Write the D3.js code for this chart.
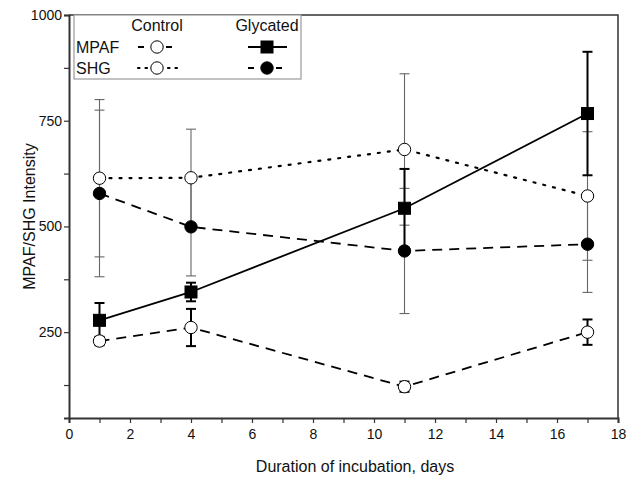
<!DOCTYPE html>
<html>
<head>
<meta charset="utf-8">
<script src="https://cdn.jsdelivr.net/npm/d3@7"></script>
<style>
  body { margin: 0; background: #fff; }
  text { font-family: "Liberation Sans", Arial, sans-serif; fill: #111; }
</style>
</head>
<body>
<div id="chart"></div>
<script>
// values
const days = [1, 4, 11, 17];
const mpafControl = [229, 261, 121, 250];
const mpafControlErr = [10, 44, 12, 30];
const mpafGlycated = [278, 345, 543, 767];
const mpafGlycatedErr = [41, 22, 93, 146];
const shgControl = [614, 615, 682, 572];
const shgControlErr = [186, 115, 179, 152];
const shgGlycated = [578, 499, 442, 458];
const shgGlycatedErr = [197, 116, 148, 114];
const xTicks = [0, 2, 4, 6, 8, 10, 12, 14, 16, 18];
const yTicks = [250, 500, 750, 1000];

const W = 634, H = 479;
const margin = { top: 15, right: 16, bottom: 61, left: 69 };

const x = d3.scaleLinear().domain([0, 18]).range([margin.left, W - margin.right]);
const y = d3.scaleLinear().domain([47, 1000]).range([H - margin.bottom, margin.top]);

const svg = d3.select('#chart').append('svg')
  .attr('width', W).attr('height', H);

// frame top / right
svg.append('path')
  .attr('d', `M${x(0)},${y(1000)}H${x(18)}V${y(47)}`)
  .attr('fill', 'none').attr('stroke', '#333').attr('stroke-width', 1.5);

// axes
const xAxis = svg.append('g')
  .attr('transform', `translate(0,${y(47)})`)
  .call(d3.axisBottom(x).tickValues(d3.range(0, 19, 1)).tickSize(5)
    .tickFormat(d => xTicks.includes(d) ? d : ''));
const yAxis = svg.append('g')
  .attr('transform', `translate(${x(0)},0)`)
  .call(d3.axisLeft(y).tickValues([125, 250, 375, 500, 625, 750, 875, 1000]).tickSize(5)
    .tickFormat(d => yTicks.includes(d) ? d : ''));

[xAxis, yAxis].forEach(g => {
  g.select('.domain').attr('stroke', '#333').attr('stroke-width', 2);
  g.selectAll('.tick line').attr('stroke', '#333').attr('stroke-width', 1.2);
  g.selectAll('.tick text').style('font-size', '14px')
    .style('font-family', '"Liberation Sans", Arial, sans-serif').attr('fill', '#111');
});
xAxis.selectAll('.tick text').attr('dy', '0.95em');
yAxis.selectAll('.tick text').attr('x', -7);

// axis titles
svg.append('text')
  .attr('x', 355).attr('y', 472)
  .attr('text-anchor', 'middle').style('font-size', '16px')
  .text('Duration of incubation, days');
svg.append('text')
  .attr('transform', `translate(35,${(y(1000) + y(47)) / 2}) rotate(-90)`)
  .attr('text-anchor', 'middle').style('font-size', '16px')
  .text('MPAF/SHG Intensity');

const series = [
  { v: shgControl, e: shgControlErr, dash: '2,8', cap: 'round', fill: '#fff', sym: 'circle', thick: false },
  { v: shgGlycated, e: shgGlycatedErr, dash: '10,7', cap: 'butt', fill: '#000', sym: 'circle', thick: false },
  { v: mpafControl, e: mpafControlErr, dash: '10,7', cap: 'butt', fill: '#fff', sym: 'circle', thick: true },
  { v: mpafGlycated, e: mpafGlycatedErr, dash: null, cap: 'butt', fill: '#000', sym: 'square', thick: true }
];

// error bars
series.forEach(s => {
  const g = svg.append('g')
    .attr('stroke', s.thick ? '#000' : '#666')
    .attr('stroke-width', s.thick ? 2 : 1.1);
  const w = 5;
  days.forEach((d, i) => {
    const lo = y(s.v[i] - s.e[i]), hi = y(s.v[i] + s.e[i]);
    g.append('line').attr('x1', x(d)).attr('x2', x(d)).attr('y1', lo).attr('y2', hi);
    g.append('line').attr('x1', x(d) - w).attr('x2', x(d) + w).attr('y1', lo).attr('y2', lo);
    g.append('line').attr('x1', x(d) - w).attr('x2', x(d) + w).attr('y1', hi).attr('y2', hi);
  });
});

// lines
const line = d3.line().x((d, i) => x(days[i])).y(d => y(d));
series.forEach(s => {
  svg.append('path')
    .datum(s.v)
    .attr('d', line)
    .attr('fill', 'none')
    .attr('stroke', '#000')
    .attr('stroke-width', s.cap === 'round' ? 2.2 : 1.8)
    .attr('stroke-linecap', s.cap)
    .attr('stroke-dasharray', s.dash);
});

function marker(g, sym, fill, cx, cy) {
  if (sym === 'square') {
    g.append('rect').attr('x', cx - 6).attr('y', cy - 6).attr('width', 12).attr('height', 12)
      .attr('fill', fill).attr('stroke', '#000').attr('stroke-width', 1);
  } else {
    g.append('circle').attr('cx', cx).attr('cy', cy).attr('r', 6.2)
      .attr('fill', fill).attr('stroke', '#000').attr('stroke-width', 1);
  }
}

// markers
series.forEach(s => {
  const g = svg.append('g');
  days.forEach((d, i) => marker(g, s.sym, s.fill, x(d), y(s.v[i])));
});

// legend
const lg = svg.append('g');
lg.append('rect').attr('x', 74).attr('y', 15).attr('width', 227).attr('height', 64)
  .attr('fill', '#fff').attr('stroke', '#999').attr('stroke-width', 1.2);
lg.append('text').attr('x', 157).attr('y', 31).attr('text-anchor', 'middle').style('font-size', '16px').text('Control');
lg.append('text').attr('x', 267).attr('y', 31).attr('text-anchor', 'middle').style('font-size', '16px').text('Glycated');
lg.append('text').attr('x', 76).attr('y', 53).style('font-size', '16px').text('MPAF');
lg.append('text').attr('x', 76).attr('y', 74).style('font-size', '16px').text('SHG');

const legendRows = [
  { yy: 47, xx: 157, s: series[2] },
  { yy: 47, xx: 267, s: series[3] },
  { yy: 68, xx: 157, s: series[0] },
  { yy: 68, xx: 267, s: series[1] }
];
legendRows.forEach(r => {
  const dotted = r.s.cap === 'round';
  lg.append('line').attr('x1', r.xx - 19).attr('x2', r.xx + 20).attr('y1', r.yy).attr('y2', r.yy)
    .attr('stroke', '#000').attr('stroke-width', dotted ? 2.2 : 1.8)
    .attr('stroke-linecap', r.s.cap)
    .attr('stroke-dasharray', dotted ? '1.5,6' : (r.s.dash ? '6,8' : null));
  marker(lg, r.s.sym, r.s.fill, r.xx, r.yy);
});
</script>
</body>
</html>
